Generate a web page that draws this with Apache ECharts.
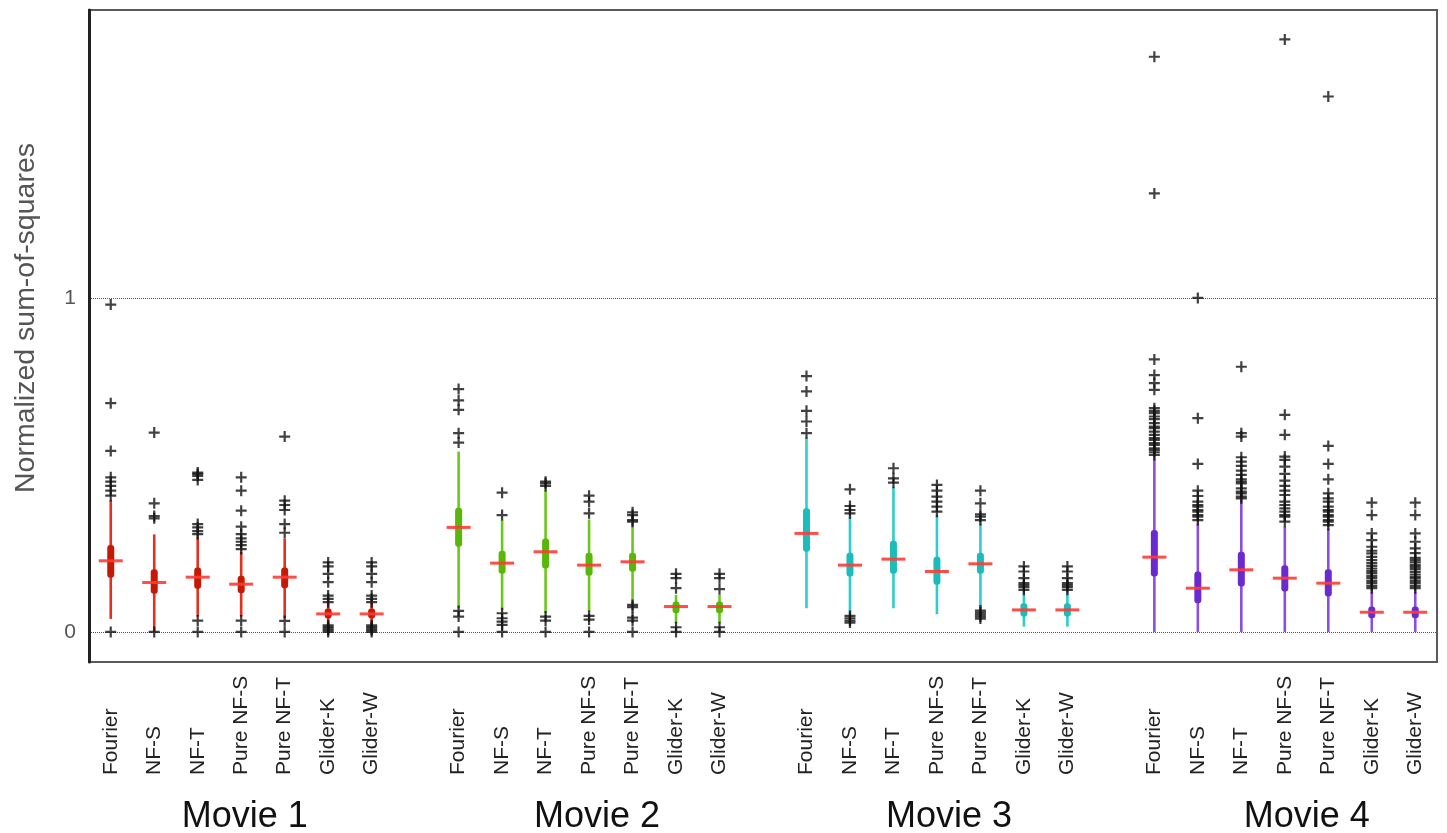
<!DOCTYPE html>
<html>
<head>
<meta charset="utf-8">
<title>Normalized sum-of-squares by movie and method</title>
<script src="https://cdn.jsdelivr.net/npm/echarts@6/dist/echarts.min.js"></script>
<style>
  html, body { margin: 0; padding: 0; background: #ffffff; }
  #chart { width: 1447px; height: 833px; }
</style>
</head>
<body>
<div id="chart"></div>
<script>
// ---- data ----
const groups = ['Movie 1', 'Movie 2', 'Movie 3', 'Movie 4'];
const methods = ['Fourier', 'NF-S', 'NF-T', 'Pure NF-S', 'Pure NF-T', 'Glider-K', 'Glider-W'];

// box statistics per method: [whisker low, Q1, median, Q3, whisker high]
const movie1Boxes = [
  [0.039, 0.162, 0.213, 0.260, 0.395],
  [0.000, 0.114, 0.148, 0.188, 0.292],
  [0.046, 0.129, 0.164, 0.193, 0.285],
  [0.046, 0.116, 0.143, 0.168, 0.240],
  [0.041, 0.131, 0.164, 0.193, 0.280],
  [0.020, 0.040, 0.054, 0.070, 0.085],
  [0.020, 0.040, 0.054, 0.070, 0.085]
];
const movie2Boxes = [
  [0.071, 0.255, 0.313, 0.372, 0.540],
  [0.066, 0.174, 0.206, 0.243, 0.335],
  [0.056, 0.190, 0.240, 0.280, 0.425],
  [0.061, 0.168, 0.200, 0.237, 0.337],
  [0.086, 0.180, 0.210, 0.237, 0.320],
  [0.026, 0.056, 0.076, 0.091, 0.111],
  [0.026, 0.056, 0.076, 0.091, 0.111]
];
const movie3Boxes = [
  [0.071, 0.240, 0.295, 0.370, 0.583],
  [0.056, 0.166, 0.200, 0.237, 0.345],
  [0.071, 0.174, 0.218, 0.273, 0.435],
  [0.053, 0.141, 0.181, 0.225, 0.350],
  [0.071, 0.174, 0.204, 0.237, 0.325],
  [0.016, 0.046, 0.066, 0.086, 0.116],
  [0.016, 0.046, 0.066, 0.086, 0.116]
];
const movie4Boxes = [
  [0.000, 0.166, 0.224, 0.305, 0.520],
  [0.000, 0.086, 0.131, 0.181, 0.325],
  [0.000, 0.136, 0.186, 0.240, 0.390],
  [0.000, 0.121, 0.161, 0.200, 0.315],
  [0.000, 0.106, 0.146, 0.188, 0.310],
  [0.000, 0.041, 0.059, 0.076, 0.121],
  [0.000, 0.041, 0.059, 0.076, 0.121]
];

// outlying runs per method
const movie1Outliers = [
  [0.980, 0.685, 0.542, 0.463, 0.450, 0.437, 0.423, 0.408, 0],
  [0.597, 0.385, 0.347, 0.340, 0],
  [0.477, 0.473, 0.467, 0.455, 0.323, 0.313, 0.302, 0.293, 0.034, 0],
  [0.463, 0.423, 0.363, 0.315, 0.293, 0.280, 0.270, 0.260, 0.248, 0.034, 0],
  [0.585, 0.393, 0.380, 0.365, 0.323, 0.297, 0.033, 0],
  [0.208, 0.196, 0.174, 0.149, 0.109, 0.099, 0.089, 0.020, 0.015, 0.010, 0.005, 0],
  [0.208, 0.196, 0.174, 0.149, 0.109, 0.099, 0.089, 0.020, 0.015, 0.010, 0.005, 0]
];
const movie2Outliers = [
  [0.727, 0.693, 0.665, 0.595, 0.567, 0.063, 0.046, 0],
  [0.417, 0.350, 0.056, 0.041, 0.031, 0.021, 0],
  [0.450, 0.445, 0.437, 0.046, 0.034, 0],
  [0.408, 0.390, 0.355, 0.048, 0.037, 0],
  [0.358, 0.350, 0.335, 0.330, 0.081, 0.074, 0.043, 0.034, 0],
  [0.174, 0.161, 0.131, 0.014, 0],
  [0.174, 0.161, 0.128, 0.014, 0]
];
const movie3Outliers = [
  [0.766, 0.720, 0.662, 0.630, 0.595],
  [0.427, 0.377, 0.365, 0.355, 0.048, 0.041, 0.034, 0.028],
  [0.490, 0.460, 0.447],
  [0.440, 0.423, 0.405, 0.390, 0.375, 0.360],
  [0.423, 0.385, 0.352, 0.345, 0.335, 0.064, 0.058, 0.052, 0.046, 0.040],
  [0.196, 0.181, 0.161, 0.146, 0.140, 0.134, 0.126],
  [0.196, 0.181, 0.161, 0.146, 0.140, 0.134, 0.126]
];
const movie4Outliers = [
  [1.722, 1.313, 0.816, 0.769, 0.745, 0.725, 0.670, 0.662, 0.655, 0.645, 0.637, 0.625, 0.615,
   0.610, 0.600, 0.590, 0.580, 0.575, 0.565, 0.560, 0.550, 0.545, 0.538, 0.530],
  [1.000, 0.640, 0.503, 0.423, 0.407, 0.390, 0.380, 0.375, 0.365, 0.360, 0.350, 0.345, 0.335],
  [0.794, 0.595, 0.585, 0.523, 0.510, 0.497, 0.483, 0.470, 0.457, 0.450, 0.445, 0.430, 0.420,
   0.415, 0.405, 0.400],
  [1.774, 0.650, 0.590, 0.525, 0.515, 0.495, 0.473, 0.453, 0.437, 0.423, 0.410, 0.390, 0.380,
   0.370, 0.360, 0.350, 0.345, 0.330],
  [1.603, 0.557, 0.503, 0.457, 0.415, 0.400, 0.390, 0.375, 0.365, 0.360, 0.350, 0.345, 0.335,
   0.330, 0.320],
  [0.387, 0.350, 0.295, 0.275, 0.255, 0.243, 0.235, 0.225, 0.215, 0.206, 0.198, 0.190, 0.183,
   0.176, 0.168, 0.161, 0.153, 0.146, 0.138, 0.131],
  [0.387, 0.350, 0.295, 0.270, 0.250, 0.236, 0.222, 0.215, 0.208, 0.200, 0.195, 0.188, 0.180,
   0.172, 0.165, 0.160, 0.153, 0.146, 0.138, 0.131]
];

const yTicks = [0, 1];

// ---- category slots: one empty slot between movies ----
const boxesByGroup = [movie1Boxes, movie2Boxes, movie3Boxes, movie4Boxes];
const outliersByGroup = [movie1Outliers, movie2Outliers, movie3Outliers, movie4Outliers];
const slotsPerGroup = methods.length + 1;
const slotCount = groups.length * slotsPerGroup - 1;

const categoryLabels = [];
const groupLabels = [];
for (let i = 0; i < slotCount; i++) {
  const g = Math.floor(i / slotsPerGroup);
  const m = i % slotsPerGroup;
  categoryLabels.push(m < methods.length ? methods[m] : '');
  groupLabels.push(m === Math.floor(methods.length / 2) ? '{g' + g + '|' + groups[g] + '}' : '');
}

const whiskerColors = ['#e3301f', '#6cc71c', '#2ecccc', '#8a4fe0'];
const boxColors = ['#c41a05', '#58b80a', '#1cbcbc', '#6a2ad0'];
const medianColor = '#ff3b33';

function renderBox(color, boxColor) {
  return function (params, api) {
    const x = api.value(0);
    const pLow = api.coord([x, api.value(1)]);
    const pQ1 = api.coord([x, api.value(2)]);
    const pMed = api.coord([x, api.value(3)]);
    const pQ3 = api.coord([x, api.value(4)]);
    const pHigh = api.coord([x, api.value(5)]);
    return {
      type: 'group',
      children: [
        { type: 'line', shape: { x1: pLow[0], y1: pLow[1], x2: pHigh[0], y2: pHigh[1] },
          style: { stroke: color, lineWidth: 2.6 } },
        { type: 'rect', shape: { x: pQ3[0] - 3.5, y: pQ3[1], width: 7, height: pQ1[1] - pQ3[1], r: 3 },
          style: { fill: boxColor } },
        { type: 'line', shape: { x1: pMed[0] - 12, y1: pMed[1], x2: pMed[0] + 12, y2: pMed[1] },
          style: { stroke: medianColor, lineWidth: 3, opacity: 0.9 } }
      ]
    };
  };
}

const boxSeries = groups.map((name, g) => ({
  type: 'custom',
  name: name,
  xAxisIndex: 0,
  yAxisIndex: 0,
  renderItem: renderBox(whiskerColors[g], boxColors[g]),
  encode: { x: 0, y: [1, 2, 3, 4, 5] },
  data: boxesByGroup[g].map((b, m) => [g * slotsPerGroup + m].concat(b)),
  z: 2
}));

const outlierData = [];
outliersByGroup.forEach((list, g) => {
  list.forEach((vals, m) => {
    vals.forEach(v => outlierData.push([g * slotsPerGroup + m, v]));
  });
});

const font = 'Liberation Sans, Arial, sans-serif';
const groupLabelStyle = { fontSize: 36, color: '#111111', fontFamily: font };
const chart = echarts.init(document.getElementById('chart'), null, { renderer: 'canvas' });
chart.setOption({
  animation: false,
  backgroundColor: '#ffffff',
  textStyle: { fontFamily: font },
  grid: {
    left: 89, right: 10, top: 10, bottom: 171,
    outerBoundsMode: 'none', containLabel: false,
    show: true, borderColor: '#5a5a5a', borderWidth: 2, backgroundColor: 'transparent'
  },
  xAxis: [
    {
      type: 'category', data: categoryLabels, boundaryGap: true, position: 'bottom',
      axisLine: { show: false }, axisTick: { show: false }, splitLine: { show: false },
      axisLabel: {
        interval: 0, rotate: 90, align: 'left', verticalAlign: 'middle', margin: 113,
        fontSize: 21, color: '#222222', fontFamily: font
      }
    },
    {
      type: 'category', data: groupLabels, boundaryGap: true, position: 'bottom',
      axisLine: { show: false }, axisTick: { show: false }, splitLine: { show: false },
      axisLabel: {
        interval: 0, margin: 137, fontSize: 36, color: '#111111', fontFamily: font,
        rich: {
          g0: Object.assign({ padding: [0, 0, 0, 7] }, groupLabelStyle),
          g1: Object.assign({ padding: [0, 0, 0, 16] }, groupLabelStyle),
          g2: Object.assign({ padding: [0, 0, 0, 24] }, groupLabelStyle),
          g3: Object.assign({ padding: [0, 0, 0, 44] }, groupLabelStyle)
        }
      }
    }
  ],
  yAxis: {
    type: 'value', min: -0.09, max: 1.862,
    name: 'Normalized sum-of-squares', nameLocation: 'middle', nameGap: 48,
    nameTextStyle: { fontSize: 28.5, color: '#555555', padding: [0, 0, 0, 36], fontFamily: font },
    axisLine: { show: true, lineStyle: { color: '#222222', width: 3 } },
    axisTick: { show: false, customValues: yTicks },
    axisLabel: { customValues: yTicks, fontSize: 21, color: '#555555', margin: 13 },
    splitLine: { show: true, lineStyle: { color: '#555555', width: 1, type: 'dotted' } }
  },
  series: boxSeries.concat([{
    type: 'scatter',
    name: 'outliers',
    xAxisIndex: 0,
    yAxisIndex: 0,
    data: outlierData,
    symbol: 'path://M4,0H6V4H10V6H6V10H4V6H0V4H4Z',
    symbolSize: 11,
    itemStyle: { color: '#111111' },
    z: 5
  }])
});
</script>
</body>
</html>
